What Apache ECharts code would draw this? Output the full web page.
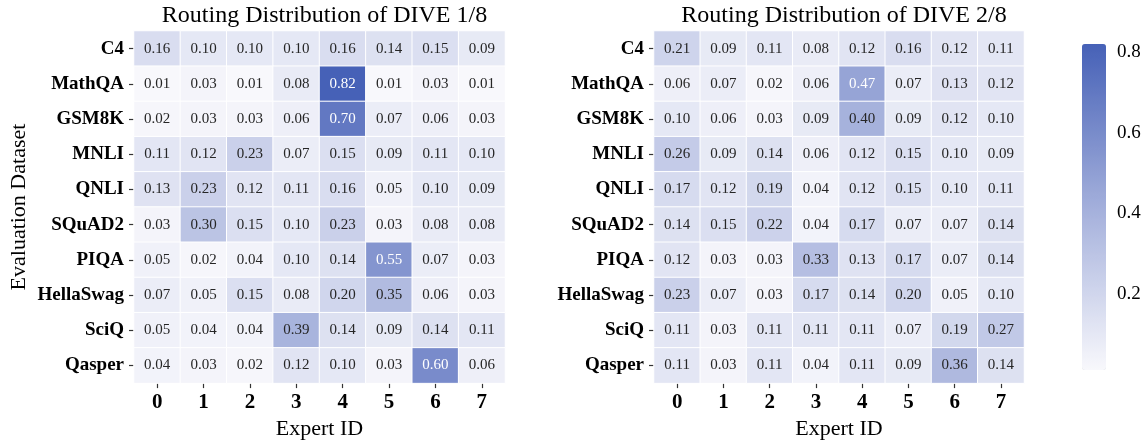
<!DOCTYPE html>
<html>
<head>
<meta charset="utf-8">
<script src="https://cdn.jsdelivr.net/npm/echarts@6/dist/echarts.min.js"></script>
<style>html,body{margin:0;padding:0;background:#fff;}#c{width:1147px;height:445px;}</style>
</head>
<body>
<div id="c"></div>
<script>
var datasets = ['C4','MathQA','GSM8K','MNLI','QNLI','SQuAD2','PIQA','HellaSwag','SciQ','Qasper'];
var experts = ['0','1','2','3','4','5','6','7'];
var dive1 = [
  [0.16,0.10,0.10,0.10,0.16,0.14,0.15,0.09],
  [0.01,0.03,0.01,0.08,0.82,0.01,0.03,0.01],
  [0.02,0.03,0.03,0.06,0.70,0.07,0.06,0.03],
  [0.11,0.12,0.23,0.07,0.15,0.09,0.11,0.10],
  [0.13,0.23,0.12,0.11,0.16,0.05,0.10,0.09],
  [0.03,0.30,0.15,0.10,0.23,0.03,0.08,0.08],
  [0.05,0.02,0.04,0.10,0.14,0.55,0.07,0.03],
  [0.07,0.05,0.15,0.08,0.20,0.35,0.06,0.03],
  [0.05,0.04,0.04,0.39,0.14,0.09,0.14,0.11],
  [0.04,0.03,0.02,0.12,0.10,0.03,0.60,0.06]
];
var dive2 = [
  [0.21,0.09,0.11,0.08,0.12,0.16,0.12,0.11],
  [0.06,0.07,0.02,0.06,0.47,0.07,0.13,0.12],
  [0.10,0.06,0.03,0.09,0.40,0.09,0.12,0.10],
  [0.26,0.09,0.14,0.06,0.12,0.15,0.10,0.09],
  [0.17,0.12,0.19,0.04,0.12,0.15,0.10,0.11],
  [0.14,0.15,0.22,0.04,0.17,0.07,0.07,0.14],
  [0.12,0.03,0.03,0.33,0.13,0.17,0.07,0.14],
  [0.23,0.07,0.03,0.17,0.14,0.20,0.05,0.10],
  [0.11,0.03,0.11,0.11,0.11,0.07,0.19,0.27],
  [0.11,0.03,0.11,0.04,0.11,0.09,0.36,0.14]
];
var titles = ['Routing Distribution of DIVE 1/8', 'Routing Distribution of DIVE 2/8'];
var colorTicks = [0.2, 0.4, 0.6, 0.8];
var vmin = 0.01, vmax = 0.82;

var FONT = 'Liberation Serif';
function toData(m) {
  var out = [];
  for (var r = 0; r < m.length; r++) {
    for (var c = 0; c < m[r].length; c++) {
      var v = m[r][c];
      out.push({value: [c, r, v], label: {color: v >= 0.45 ? '#ffffff' : '#262626'}});
    }
  }
  return out;
}
var grids = [
  {left: 134, top: 31, width: 371, height: 360},
  {left: 654, top: 31, width: 370, height: 360},
  {left: 1082, top: 44, width: 24, height: 326}
];
function xAx(i) {
  return {
    type: 'category', data: experts, gridIndex: i, position: 'bottom',
    axisLine: {show: false}, splitLine: {show: false}, splitArea: {show: false},
    axisTick: {show: true, alignWithLabel: true, length: 5, lineStyle: {color: '#333', width: 1.2}},
    axisLabel: {fontFamily: FONT, fontWeight: 'bold', fontSize: 21, color: '#000', margin: 9},
    name: 'Expert ID', nameLocation: 'middle', nameGap: 28,
    nameTextStyle: {fontFamily: FONT, fontSize: 22, color: '#000'}
  };
}
function yAx(i, showName) {
  return {
    type: 'category', data: datasets, gridIndex: i, inverse: true,
    axisLine: {show: false}, splitLine: {show: false}, splitArea: {show: false},
    axisTick: {show: true, alignWithLabel: true, length: 5, lineStyle: {color: '#333', width: 1.2}},
    axisLabel: {fontFamily: FONT, fontWeight: 'bold', fontSize: 19, color: '#000', margin: 10},
    name: showName ? 'Evaluation Dataset' : '', nameLocation: 'middle', nameGap: 104,
    nameTextStyle: {fontFamily: FONT, fontSize: 22, color: '#000'}
  };
}
function heat(i, m) {
  return {
    type: 'heatmap', xAxisIndex: i, yAxisIndex: i, data: toData(m),
    label: {show: true, fontFamily: FONT, fontSize: 15, formatter: function (p) { return p.value[2].toFixed(2); }},
    itemStyle: {borderColor: '#ffffff', borderWidth: 1},
    emphasis: {disabled: true}
  };
}
var chart = echarts.init(document.getElementById('c'), null, {renderer: 'canvas'});
chart.setOption({
  animation: false,
  backgroundColor: '#ffffff',
  title: [
    {text: titles[0], left: 134 + 371 / 2, textAlign: 'center', top: -1, textStyle: {fontFamily: FONT, fontSize: 24, fontWeight: 'normal', color: '#000'}},
    {text: titles[1], left: 654 + 370 / 2, textAlign: 'center', top: -1, textStyle: {fontFamily: FONT, fontSize: 24, fontWeight: 'normal', color: '#000'}}
  ],
  grid: grids,
  xAxis: [xAx(0), xAx(1), {type: 'value', gridIndex: 2, show: false, min: 0, max: 1}],
  yAxis: [yAx(0, true), yAx(1, false), {
    type: 'value', gridIndex: 2, position: 'right', min: vmin, max: vmax,
    axisLine: {show: false}, splitLine: {show: false},
    axisTick: {show: true, length: 5, customValues: colorTicks, lineStyle: {color: '#333', width: 1.2}},
    axisLabel: {show: true, customValues: colorTicks, fontFamily: FONT, fontSize: 19, color: '#000', margin: 11}
  }],
  visualMap: {
    type: 'continuous', min: vmin, max: vmax, seriesIndex: [0, 1],
    left: 1082, top: 44, itemWidth: 24, itemHeight: 326, padding: 0,
    calculable: false, text: null, showLabel: false, hoverLink: false,
    inRange: {color: ['#f8f8fc', '#a3afdb', '#4661b7']}
  },
  series: [heat(0, dive1), heat(1, dive2)]
});
</script>
</body>
</html>
